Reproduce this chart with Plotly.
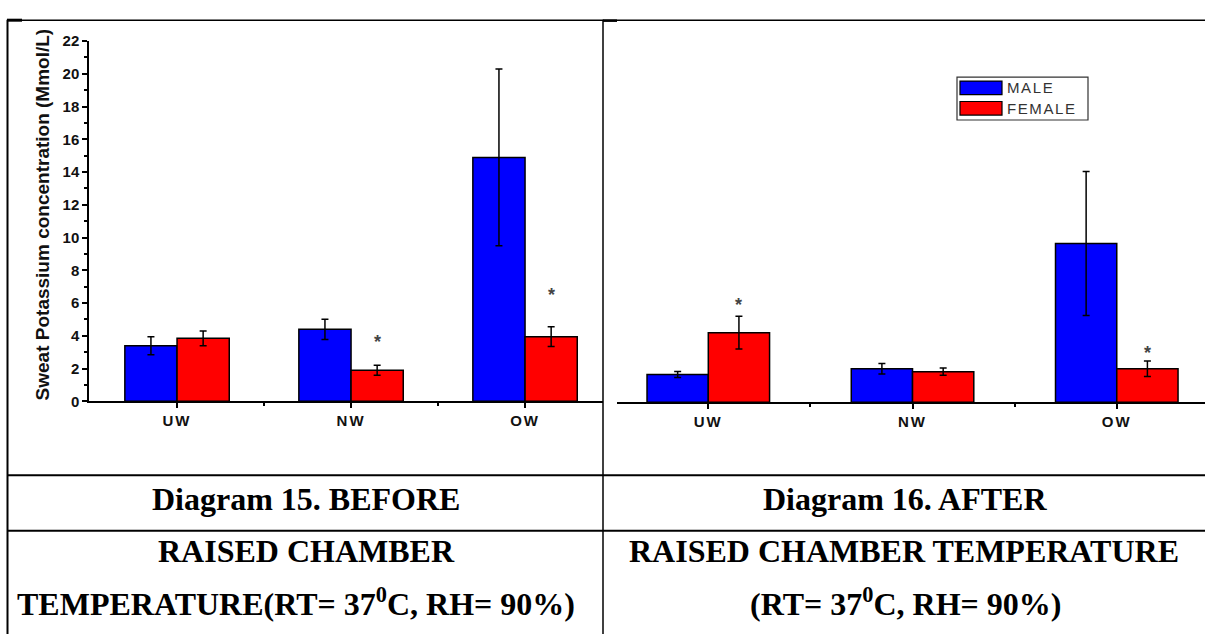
import plotly.graph_objects as go

W, H = 1205, 642

# ---------------- data ----------------
categories = ["UW", "NW", "OW"]
series_names = ["MALE", "FEMALE"]

male_before = [3.4, 4.4, 14.9]
male_before_err = [0.55, 0.62, 5.4]
female_before = [3.85, 1.9, 3.95]
female_before_err = [0.45, 0.3, 0.6]
sig_before = [None, 3.8, 6.7]          # asterisk (significance) heights

male_after = [1.7, 2.05, 9.7]
male_after_err = [0.18, 0.32, 4.4]
female_after = [4.25, 1.87, 2.05]
female_after_err = [1.0, 0.22, 0.47]
sig_after = [6.1, None, 3.2]

y_ticks = list(range(0, 23, 2))
y_minor = list(range(1, 23, 2))

BLUE = "#0000FF"
RED = "#FF0000"


def px(x):
    return x / W


def py(y):
    return 1 - y / H


xpos = list(range(len(categories)))
err_style = dict(type="data", color="black", thickness=1.5, width=3.5)
bar_line = dict(color="black", width=1.5)

fig = go.Figure()
fig.add_trace(go.Bar(x=xpos, y=male_before, name=series_names[0],
                     marker=dict(color=BLUE, line=bar_line),
                     error_y=dict(array=male_before_err, **err_style),
                     xaxis="x", yaxis="y", offsetgroup="m"))
fig.add_trace(go.Bar(x=xpos, y=female_before, name=series_names[1],
                     marker=dict(color=RED, line=bar_line),
                     error_y=dict(array=female_before_err, **err_style),
                     xaxis="x", yaxis="y", offsetgroup="f"))
fig.add_trace(go.Bar(x=xpos, y=male_after, name=series_names[0],
                     marker=dict(color=BLUE, line=bar_line),
                     error_y=dict(array=male_after_err, **err_style),
                     xaxis="x2", yaxis="y2", offsetgroup="m"))
fig.add_trace(go.Bar(x=xpos, y=female_after, name=series_names[1],
                     marker=dict(color=RED, line=bar_line),
                     error_y=dict(array=female_after_err, **err_style),
                     xaxis="x2", yaxis="y2", offsetgroup="f"))

SANS = "Liberation Sans, Arial"
tick_font = dict(family=SANS, size=15, color="#111", weight="bold")
ticktext = ['<span style="letter-spacing:2px">%s</span>' % c for c in categories]

xcommon = dict(
    tickmode="array", tickvals=xpos, ticktext=ticktext,
    ticks="outside", ticklen=5, tickwidth=1.5, tickcolor="black",
    showline=True, linecolor="black", linewidth=1.5,
    showgrid=False, zeroline=False, tickfont=tick_font,
    minor=dict(tickmode="array", tickvals=[0.5, 1.5], ticks="outside",
               ticklen=3, tickwidth=1.5, tickcolor="black", showgrid=False),
    fixedrange=True,
)

fig.update_layout(
    width=W, height=H,
    margin=dict(l=0, r=0, t=0, b=0),
    paper_bgcolor="white", plot_bgcolor="white",
    barmode="group", bargap=0.4, bargroupgap=0,
    showlegend=False,
    xaxis=dict(domain=[px(89), px(603)], range=[-0.506, 2.448], anchor="y", **xcommon),
    yaxis=dict(domain=[py(403), py(33)], range=[0, 22], anchor="x",
               tickmode="array", tickvals=y_ticks,
               ticks="outside", ticklen=5, tickwidth=1.5, tickcolor="black",
               showline=True, linecolor="black", linewidth=1.5,
               showgrid=False, zeroline=False, tickfont=tick_font,
               minor=dict(tickmode="array", tickvals=y_minor, ticks="outside",
                          ticklen=3, tickwidth=1.5, tickcolor="black", showgrid=False)),
    xaxis2=dict(domain=[px(617), 1.0], range=[-0.447, 2.432], anchor="y2", **xcommon),
    yaxis2=dict(domain=[py(404), py(34)], range=[0, 22], anchor="x2",
                visible=False, showgrid=False, zeroline=False),
)

ann = []
# y-axis title
ann.append(dict(text="Sweat Potassium concentration (Mmol/L)",
                xref="paper", yref="paper", x=px(42), y=py(211),
                textangle=-90, showarrow=False, xanchor="center", yanchor="middle",
                font=dict(family=SANS, size=19, color="#111", weight="bold")))

# significance asterisks over female bars
star_font = dict(family=SANS, size=18, color="#444", weight="bold")
for i, v in enumerate(sig_before):
    if v is not None:
        ann.append(dict(text="*", xref="x", yref="y", x=xpos[i] + 0.15, y=v,
                        showarrow=False, yshift=-3, font=star_font))
for i, v in enumerate(sig_after):
    if v is not None:
        ann.append(dict(text="*", xref="x2", yref="y2", x=xpos[i] + 0.15, y=v,
                        showarrow=False, yshift=-3, font=star_font))

# legend (custom box)
shapes = []
shapes.append(dict(type="rect", xref="paper", yref="paper",
                   x0=px(957), x1=px(1088), y0=py(114), y1=py(70),
                   line=dict(color="#333", width=1.2), fillcolor="white"))
for name, col, ytop in [(series_names[0], BLUE, 74), (series_names[1], RED, 95)]:
    shapes.append(dict(type="rect", xref="paper", yref="paper",
                       x0=px(960), x1=px(1002), y0=py(ytop + 14), y1=py(ytop),
                       line=dict(color="black", width=1.2), fillcolor=col))
    ann.append(dict(text='<span style="letter-spacing:1.6px">%s</span>' % name,
                    xref="paper", yref="paper", x=px(1005), y=py(ytop + 7),
                    xanchor="left", yanchor="middle", showarrow=False,
                    font=dict(family=SANS, size=15, color="#333")))

# table lines
line_k = dict(color="black", width=1.5)
shapes += [
    dict(type="line", xref="paper", yref="paper", x0=px(7), x1=1.0, y0=py(11.5), y1=py(11.5), line=line_k),
    dict(type="line", xref="paper", yref="paper", x0=px(7), x1=px(22), y0=py(11.5), y1=py(11.5),
         line=dict(color="black", width=3)),
    dict(type="line", xref="paper", yref="paper", x0=px(603), x1=px(617), y0=py(12), y1=py(12),
         line=dict(color="black", width=2.5)),
    dict(type="line", xref="paper", yref="paper", x0=px(7.5), x1=px(7.5), y0=py(11), y1=0,
         line=dict(color="black", width=2)),
    dict(type="line", xref="paper", yref="paper", x0=px(603), x1=px(603), y0=py(11), y1=0, line=line_k),
    dict(type="line", xref="paper", yref="paper", x0=px(7), x1=1.0, y0=py(479), y1=py(479),
         line=dict(color="black", width=2)),
    dict(type="line", xref="paper", yref="paper", x0=px(7), x1=1.0, y0=py(536), y1=py(536),
         line=dict(color="black", width=2)),
]

cap_font = dict(family="Liberation Serif, Times New Roman", size=32, color="black", weight="bold")
captions = [
    ("Diagram 15. BEFORE", 306, 503),
    ("Diagram 16. AFTER", 905, 503),
    ("RAISED CHAMBER", 306, 557),
    ("TEMPERATURE(RT= 37<sup>0</sup>C, RH= 90%)", 296, 609),
    ("RAISED CHAMBER TEMPERATURE", 904, 557),
    ("(RT= 37<sup>0</sup>C, RH= 90%)", 905, 609),
]
for t, cx, cy in captions:
    ann.append(dict(text=t, xref="paper", yref="paper", x=px(cx), y=py(cy),
                    xanchor="center", yanchor="middle", showarrow=False, font=cap_font))

fig.update_layout(annotations=ann, shapes=shapes)
fig.write_html("out.html")
